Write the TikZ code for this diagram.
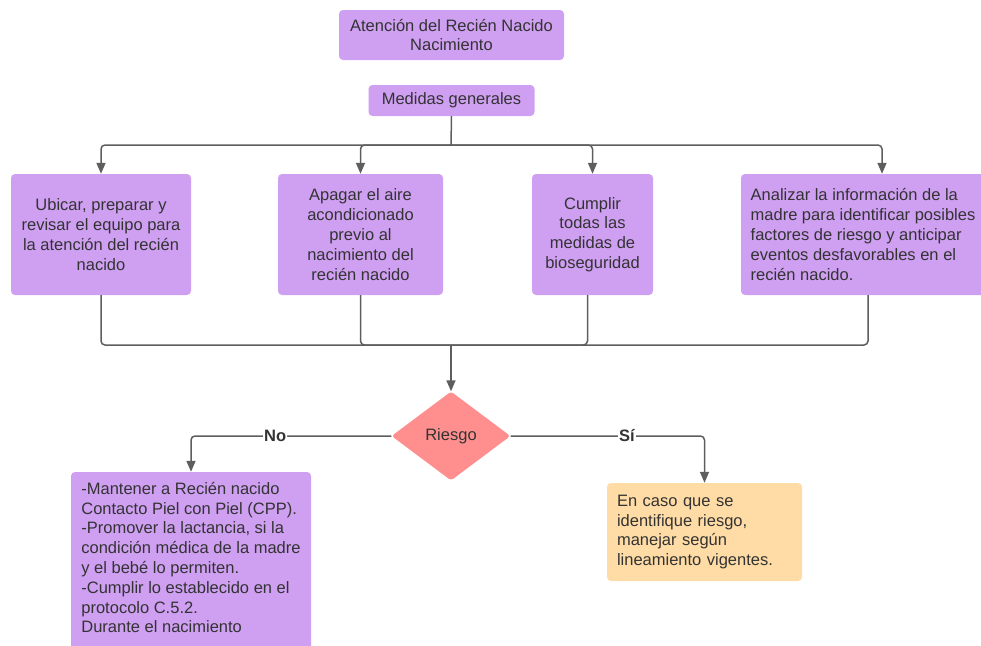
\documentclass[tikz,border=0pt]{standalone}
\usepackage{fontspec}
\setmainfont{Liberation Sans}
\usepackage{tikz}
\usetikzlibrary{arrows.meta,calc,positioning,shapes.geometric}

\definecolor{boxpurple}{HTML}{CF9FF2}
\definecolor{boxred}{HTML}{FF8F8F}
\definecolor{boxorange}{HTML}{FFDCA5}
\definecolor{linegray}{HTML}{5E5E5E}
\definecolor{textgray}{HTML}{333333}

\begin{document}
\begin{tikzpicture}[x=1pt, y=-1pt, >={Triangle[length=11pt,width=9pt]},
    every node/.style={font=\fontsize{16.5}{19.8}\selectfont, text=textgray},
    box/.style={rectangle, fill=boxpurple, rounded corners=4pt, inner sep=2pt},
    link/.style={draw=linegray, line width=1.5pt, rounded corners=4pt},
    arrow/.style={link, ->, >={Triangle[length=11pt,width=9pt]}, linegray},
    lbl/.style={fill=white, inner sep=1pt, font=\fontsize{16.5}{19.8}\selectfont\bfseries}]
    \useasboundingbox (0,0) rectangle (981,645);
    \clip (0,0) rectangle (981,645);

    \node (title) [box, minimum width=225pt, minimum height=50pt, align=center] at (451.5,35) {Atención del Recién Nacido\\ Nacimiento};
    \node (med) [box, minimum width=166pt, minimum height=31pt, below of=title, node distance=65.5pt] {Medidas generales};

    \node (equipo) [box, minimum width=180pt, minimum height=121pt, align=center] at (101,234.5) {Ubicar, preparar y\\ revisar el equipo para\\ la atención del recién\\ nacido};
    \node (aire) [box, minimum width=165pt, minimum height=121pt, align=center, right of=equipo, node distance=259.5pt] {Apagar el aire\\ acondicionado\\ previo al\\ nacimiento del\\ recién nacido};
    \node (bioseg) [box, minimum width=121pt, minimum height=121pt, align=center, right of=aire, node distance=232pt] {Cumplir\\ todas las\\ medidas de\\ bioseguridad};
    \node (madre) [box, minimum width=244pt, minimum height=121pt, align=left, right of=bioseg, node distance=270.5pt] {Analizar la información de la\\ madre para identificar posibles\\ factores de riesgo y anticipar\\ eventos desfavorables en el\\ recién nacido.};

    \node (riesgo) [diamond, fill=boxred, rounded corners=3pt, minimum width=119pt, minimum height=89pt, inner sep=0pt] at (451,436) {Riesgo};

    \node (nobox) [box, minimum width=240pt, minimum height=185pt, text depth=14pt, align=left] at (191,564.5) {-Mantener a Recién nacido\\ Contacto Piel con Piel (CPP).\\ -Promover la lactancia, si la\\ condición médica de la madre\\ y el bebé lo permiten.\\ -Cumplir lo establecido en el\\ protocolo C.5.2.\\ Durante el nacimiento};
    \node (sibox) [box, fill=boxorange, minimum width=195pt, minimum height=98pt, text width=175pt, align=left] at (704.5,532) {En caso que se\\ identifique riesgo,\\ manejar según\\ lineamiento vigentes.};

    \coordinate (split) at (451,145);
    \coordinate (merge) at (451,345);

    \draw[link] (med.south) -- (split);
    \draw[arrow] (split) -| (equipo.north);
    \draw[arrow] (split) -| (aire.north);
    \draw[arrow] (split) -| (bioseg.north);
    \draw[arrow] (split) -| ($(madre.north)+(19,0)$);

    \draw[link] (equipo.south) |- (merge);
    \draw[link] (aire.south) |- (merge);
    \draw[link] ($(bioseg.south)+(-5,0)$) |- (merge);
    \draw[link] ($(madre.south)+(5,0)$) |- (merge);
    \draw[arrow] (merge) -- (riesgo.north);

    \draw[arrow] (riesgo.west) -| node[lbl, pos=0.29] {No} (nobox.north);
    \draw[arrow] (riesgo.east) -| node[lbl, pos=0.3] {Sí} (sibox.north);
\end{tikzpicture}
\end{document}
